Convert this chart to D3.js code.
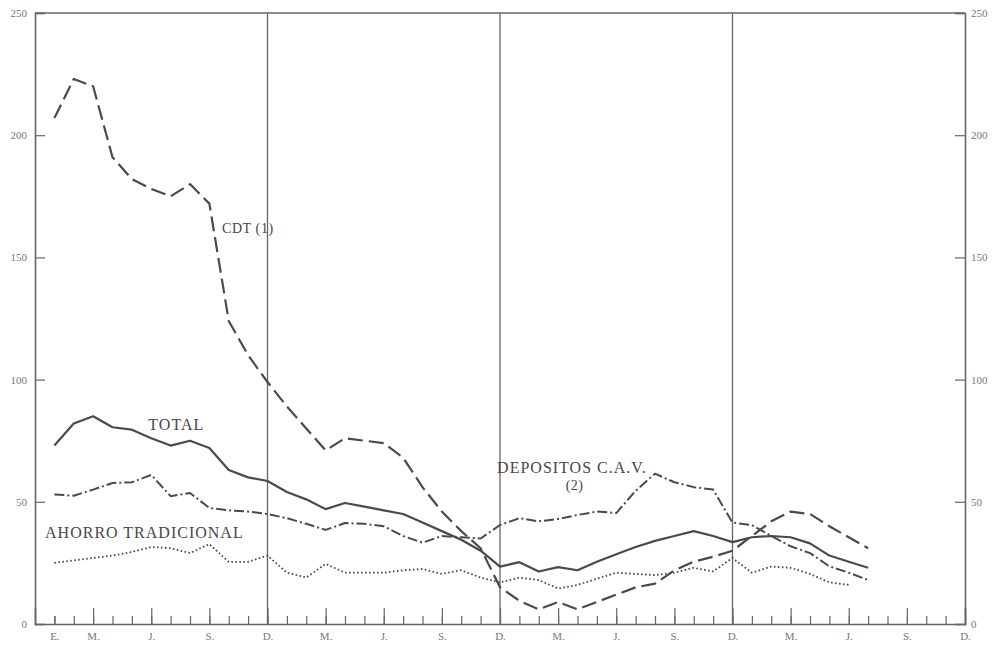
<!DOCTYPE html>
<html>
<head>
<meta charset="utf-8">
<script src="https://cdn.jsdelivr.net/npm/d3@7"></script>
<style>
  body { margin: 0; background: #fff; }
  svg { display: block; font-family: "Liberation Serif", "DejaVu Serif", serif; }
</style>
</head>
<body>
<div id="chart"></div>
<script>
// months counted from January of the first year (0) to July of the fourth (42)
const months = d3.range(0, 43);

const cdt = [207, 223, 220, 191, 182, 178, 175, 180, 172, 124, 110, 99,
             89, 80, 71, 76, 75, 74, 68, 56, 46, 38, 31, 15,
             9.5, 6, 9, 6, 9, 12, 15, 16.5, 22, 25.5, 27.5, 30,
             36, 42, 46, 45, 40, 35.5, 31];

const total = [73, 82, 85, 80.5, 79.5, 76, 73, 75, 72, 63, 60, 58.5,
               54, 51, 47, 49.5, 48, 46.5, 45, 41.5, 38, 34.5, 30, 23.5,
               25.3, 21.5, 23.3, 22, 25.5, 28.5, 31.5, 34, 36, 38, 36, 33.5,
               35.5, 36, 35.5, 33, 28, 25.5, 23];

const cav = [53, 52.5, 55, 57.7, 58, 61, 52.3, 53.6, 47.5, 46.5, 46, 45,
             43.3, 41, 38.5, 41.3, 41, 40, 36, 33.3, 36, 35.5, 35, 40.5,
             43.3, 42, 43, 44.6, 46, 45.4, 54.5, 61.5, 58, 56, 55, 41.5,
             40.5, 36, 31.8, 29, 23.6, 21, 18];

const ahorro = [25, 26, 27, 28, 29.5, 31.5, 31, 29, 32.7, 25.4, 25.4, 28,
                21, 19, 24.6, 21, 21, 21, 22, 22.5, 20.5, 22, 19, 17,
                19, 18, 14.5, 16, 18.5, 21, 20.5, 20, 21, 23, 21.5, 27,
                21, 23.5, 23, 20.5, 17, 16, null];

const majorTicks = [0, 2, 5, 8, 11, 14, 17, 20, 23, 26, 29, 32, 35, 38, 41, 44, 47];
const majorLabels = ["E.", "M.", "J.", "S.", "D.", "M.", "J.", "S.", "D.",
                     "M.", "J.", "S.", "D.", "M.", "J.", "S.", "D."];
const yearEnds = [11, 23, 35];
const yTicks = [0, 50, 100, 150, 200, 250];

const seriesNames = ["CDT", "TOTAL", "CAV", "AHORRO"];
const seriesDash = ["15,6", null, "10,3,2,3", "1.6,2.4"];
const seriesWidth = [2.2, 2.2, 2, 1.8];

const labelText = ["CDT (1)", "TOTAL", "AHORRO TRADICIONAL", "DEPOSITOS C.A.V.", "(2)"];
const labelMonth = [8.65, 4.85, -0.48, 22.85, 26.85];
const labelValue = [160, 79.4, 35.2, 61.8, 54.8];
const labelAnchor = ["start", "start", "start", "start", "middle"];
const labelSize = [14, 16, 16, 16, 14];
const labelSpacing = [0.6, 1, 1, 1, 0.5];

const width = 999, height = 650;
const svg = d3.select("#chart").append("svg")
    .attr("width", width)
    .attr("height", height);

const x = d3.scaleLinear().domain([-1, 47]).range([35, 965]);
const y = d3.scaleLinear().domain([0, 250]).range([624, 13]);

const axisColor = "#666";
const lineColor = "#4a4a4a";

// frame: top line
svg.append("line")
    .attr("x1", x(-1)).attr("x2", x(47))
    .attr("y1", y(250)).attr("y2", y(250))
    .attr("stroke", axisColor).attr("stroke-width", 1.3);

// year separators
svg.selectAll(".year")
    .data(yearEnds)
    .enter()
    .append("line")
    .attr("x1", d => x(d)).attr("x2", d => x(d))
    .attr("y1", y(250)).attr("y2", y(0))
    .attr("stroke", axisColor).attr("stroke-width", 1.3);

// minor month ticks
const minorAxis = d3.axisBottom(x)
    .tickValues(d3.range(0, 47))
    .tickSize(-8)
    .tickFormat("");
svg.append("g")
    .attr("transform", `translate(0,${y(0)})`)
    .call(minorAxis)
    .call(g => g.select(".domain").remove())
    .selectAll("line").attr("stroke", axisColor).attr("stroke-width", 1.2);

// major ticks + labels
const majorAxis = d3.axisBottom(x)
    .tickValues(majorTicks)
    .tickSize(-16)
    .tickPadding(8)
    .tickFormat((d, i) => majorLabels[i]);
const gx = svg.append("g")
    .attr("transform", `translate(0,${y(0)})`)
    .call(majorAxis);
gx.select(".domain").attr("stroke", axisColor).attr("stroke-width", 1.6);
gx.selectAll(".tick line")
    .attr("stroke", axisColor)
    .attr("stroke-width", 1.2);
gx.selectAll(".tick line").filter(d => d === 0).attr("y2", -8);
gx.selectAll("text")
    .attr("font-family", "Liberation Serif")
    .attr("font-size", 11)
    .attr("fill", "#777");

// left and right value axes
const gl = svg.append("g")
    .attr("transform", `translate(${x(-1)},0)`)
    .call(d3.axisLeft(y).tickValues(yTicks).tickSize(-10).tickPadding(8));
const gr = svg.append("g")
    .attr("transform", `translate(${x(47)},0)`)
    .call(d3.axisRight(y).tickValues(yTicks).tickSize(-10).tickPadding(6));
[gl, gr].forEach(g => {
    g.select(".domain").attr("stroke", axisColor).attr("stroke-width", 1.6);
    g.selectAll(".tick line").attr("stroke", axisColor).attr("stroke-width", 1.2);
    g.selectAll("text")
        .attr("font-family", "Liberation Serif")
        .attr("font-size", 11)
        .attr("fill", "#777");
});

// series lines
const seriesData = [cdt, total, cav, ahorro];
const line = d3.line()
    .defined(d => d[1] != null)
    .x(d => x(d[0]))
    .y(d => y(d[1]))
    .curve(d3.curveLinear);

seriesData.forEach((vals, i) => {
    svg.append("path")
        .datum(months.map((m, j) => [m, vals[j]]))
        .attr("class", "series " + seriesNames[i])
        .attr("d", line)
        .attr("fill", "none")
        .attr("stroke", lineColor)
        .attr("stroke-width", seriesWidth[i])
        .attr("stroke-linejoin", "round")
        .attr("stroke-dasharray", seriesDash[i]);
});

// series labels
svg.selectAll(".label")
    .data(labelText)
    .enter()
    .append("text")
    .attr("class", "label")
    .attr("x", (d, i) => x(labelMonth[i]))
    .attr("y", (d, i) => y(labelValue[i]))
    .attr("text-anchor", (d, i) => labelAnchor[i])
    .attr("font-size", (d, i) => labelSize[i])
    .attr("letter-spacing", (d, i) => labelSpacing[i])
    .attr("fill", "#474747")
    .text(d => d);
</script>
</body>
</html>
